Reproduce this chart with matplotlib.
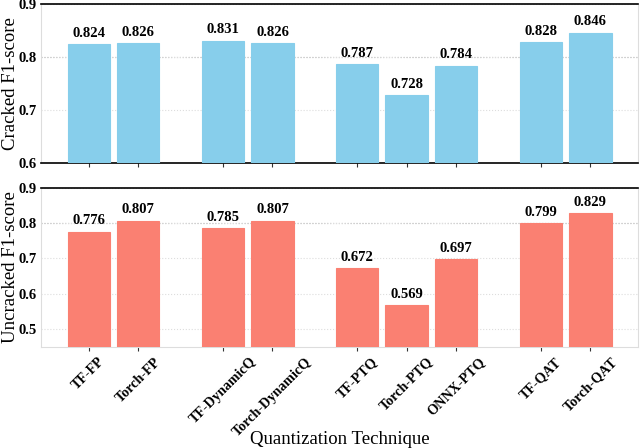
import matplotlib
matplotlib.use("Agg")
import matplotlib.pyplot as plt

plt.rcParams['font.family'] = ['Liberation Serif', 'DejaVu Serif']

# Donnees
techniques = ["TF-FP", "Torch-FP", "TF-DynamicQ", "Torch-DynamicQ",
              "TF-PTQ", "Torch-PTQ", "ONNX-PTQ", "TF-QAT", "Torch-QAT"]
groupes = [0, 0, 1, 1, 2, 2, 2, 3, 3]
cracked = [0.824, 0.826, 0.831, 0.826, 0.787, 0.728, 0.784, 0.828, 0.846]
uncracked = [0.776, 0.807, 0.785, 0.807, 0.672, 0.569, 0.697, 0.799, 0.829]

# position des barres : un ecart supplementaire entre les groupes
x = []
pos = 0.0
for i, g in enumerate(groupes):
    if i > 0:
        pos += 1.0
        if g != groupes[i - 1]:
            pos += 0.7
    x.append(pos)

fig = plt.figure(figsize=(6.4, 4.48), dpi=100)
ax1 = fig.add_axes([0.064, 0.636, 0.933, 0.355])
ax2 = fig.add_axes([0.064, 0.226, 0.933, 0.355], sharex=ax1)


def dessine(ax, valeurs, couleur, ylim, yticks, ylabel):
    barres = ax.bar(x, valeurs, width=0.85, color=couleur, edgecolor=couleur,
                    linewidth=0.8, zorder=3)
    for b, v in zip(barres, valeurs):
        ax.annotate("%.3f" % v, (b.get_x() + b.get_width() / 2, v),
                    xytext=(0, 3), textcoords="offset points",
                    ha="center", va="bottom", fontsize=10.5, fontweight="bold")
    ax.set_ylim(*ylim)
    ax.set_yticks(yticks)
    ax.set_yticklabels(["%.1f" % t for t in yticks], fontsize=10.5, fontweight="bold")
    ax.set_ylabel(ylabel, fontsize=13.5)
    ax.yaxis.set_label_coords(-0.037, 0.5)
    ax.yaxis.grid(True, linestyle=":", color="#dddddd", linewidth=0.8, zorder=0)
    ax.axhline(0.8, linestyle=":", color="#999999", linewidth=0.8, zorder=1)
    ax.tick_params(axis="y", length=0, pad=3)
    ax.tick_params(axis="x", length=3, width=0.8, color="#333333")
    for s in ["left", "right", "bottom"]:
        ax.spines[s].set_color("#dddddd")
    ax.spines["top"].set_color("black")
    ax.spines["top"].set_linewidth(1.2)


dessine(ax1, cracked, "#87CEEB", (0.6, 0.9), [0.6, 0.7, 0.8, 0.9], "Cracked F1-score")
dessine(ax2, uncracked, "#FA8072", (0.45, 0.9), [0.5, 0.6, 0.7, 0.8, 0.9], "Uncracked F1-score")

ax1.spines["bottom"].set_color("black")
ax1.spines["bottom"].set_linewidth(1.2)
ax1.set_xlim(-0.96, x[-1] + 0.96)
ax1.set_xticks(x)
plt.setp(ax1.get_xticklabels(), visible=False)
ax2.set_xticklabels(techniques, rotation=45, ha="center",
                    fontsize=10.2, fontweight="bold")
ax2.tick_params(axis="x", pad=3)
ax2.set_xlabel("Quantization Technique", fontsize=13.5)
ax2.xaxis.set_label_coords(0.5, -0.53)

fig.savefig("out.png", dpi=100)
